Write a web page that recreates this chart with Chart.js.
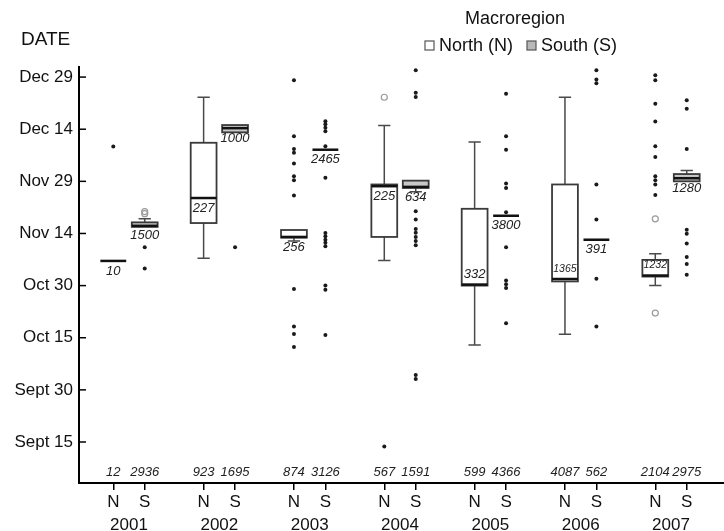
<!DOCTYPE html>
<html>
<head>
<meta charset="utf-8">
<script src="https://cdn.jsdelivr.net/npm/chart.js@4.4.1/dist/chart.umd.min.js"></script>
<style>
  html, body { margin: 0; padding: 0; background: #fff; }
</style>
</head>
<body>
<canvas id="chart" width="724" height="531"></canvas>
<script>
// dates are counted in days from Sept 15
const years = [2001, 2002, 2003, 2004, 2005, 2006, 2007];
const dateTicks = [0, 15, 30, 45, 60, 75, 90, 105];
const dateLabels = ['Sept 15', 'Sept 30', 'Oct 15', 'Oct 30', 'Nov 14', 'Nov 29', 'Dec 14', 'Dec 29'];

// North (N)
const northLow = [52.1, 52.9, 57.8, 52.2, 27.9, 31.0, 45.0];
const northQ1 = [52.1, 63.0, 58.8, 59.0, 45.0, 46.2, 47.6];
const northMedian = [52.1, 70.2, 59.0, 73.6, 45.3, 46.9, 47.9];
const northQ3 = [52.1, 86.1, 61.0, 74.1, 67.1, 74.1, 52.4];
const northHigh = [52.1, 99.2, 61.0, 91.1, 86.3, 99.2, 54.2];
const northBoxLabels = ['10', '227', '256', '225', '332', '1365', '1232'];
const northCounts = ['12', '923', '874', '567', '599', '4087', '2104'];
const northExtremes = [
  [85.0],
  [],
  [104.1, 88.0, 84.3, 83.2, 80.1, 76.5, 75.3, 70.9, 44.0, 33.2, 31.1, 27.3],
  [-1.3],
  [],
  [],
  [105.5, 104.1, 97.3, 92.2, 85.1, 82.0, 76.5, 75.3, 74.1, 71.1]
];
const northOutliers = [[], [], [], [99.2], [], [], [64.2, 37.1]];

// South (S)
const southLow = [61.9, 89.1, 84.1, 72.0, 65.1, 58.2, 75.0];
const southQ1 = [61.9, 89.1, 84.1, 73.1, 65.1, 58.2, 75.0];
const southMedian = [62.2, 90.3, 84.1, 73.4, 65.1, 58.2, 75.9];
const southQ3 = [63.2, 91.2, 84.1, 75.2, 65.1, 58.2, 77.1];
const southHigh = [64.2, 91.2, 84.1, 75.2, 65.1, 58.2, 78.1];
const southBoxLabels = ['1500', '1000', '2465', '634', '3800', '391', '1280'];
const southCounts = ['2936', '1695', '3126', '1591', '4366', '562', '2975'];
const southExtremes = [
  [56.0, 49.9],
  [56.0],
  [92.3, 91.4, 90.4, 89.4, 85.1, 76.0, 60.1, 59.2, 58.2, 57.3, 56.3, 45.0, 43.8, 30.8],
  [107.0, 100.5, 99.3, 66.4, 64.0, 61.3, 60.2, 59.0, 57.8, 56.6, 19.3, 18.1],
  [100.2, 88.0, 84.1, 74.4, 73.1, 66.1, 56.0, 46.5, 45.4, 44.3, 34.2],
  [107.0, 104.3, 103.2, 74.1, 64.0, 47.0, 33.2],
  [98.3, 95.9, 84.3, 61.1, 59.9, 57.1, 53.2, 51.2, 48.1]
];
const southOutliers = [[65.7, 66.3], [], [], [], [], [], []];

const FONT = '"Liberation Sans", Arial, Helvetica, sans-serif';
const SIDE = 0.174; // N / S offset from the year centre

const regions = [
  { key: 'N', offset: -SIDE, fill: '#ffffff', low: northLow, q1: northQ1, med: northMedian,
    q3: northQ3, high: northHigh, labels: northBoxLabels, counts: northCounts },
  { key: 'S', offset: SIDE, fill: '#c8c8c8', low: southLow, q1: southQ1, med: southMedian,
    q3: southQ3, high: southHigh, labels: southBoxLabels, counts: southCounts }
];

const slotValues = [];
years.forEach((yr) => { slotValues.push(yr - SIDE, yr + SIDE); });

function pointsFrom(lists, offset) {
  const pts = [];
  lists.forEach((vals, i) => vals.forEach((v) => pts.push({ x: years[i] + offset, y: v })));
  return pts;
}

function yearWidth(x) {
  return x.getPixelForValue(years[1]) - x.getPixelForValue(years[0]);
}

const boxPlugin = {
  id: 'boxes',
  beforeDatasetsDraw(chart) {
    const { ctx, scales: { x, y } } = chart;
    const unit = yearWidth(x);
    const half = unit * 0.143;
    const cap = unit * 0.068;
    ctx.save();
    regions.forEach((r) => {
      years.forEach((yr, i) => {
        const cx = x.getPixelForValue(yr + r.offset);
        const pLow = y.getPixelForValue(r.low[i]);
        const pQ1 = y.getPixelForValue(r.q1[i]);
        const pMed = y.getPixelForValue(r.med[i]);
        const pQ3 = y.getPixelForValue(r.q3[i]);
        const pHigh = y.getPixelForValue(r.high[i]);
        ctx.strokeStyle = '#4a4a4a';
        ctx.lineWidth = 1.5;
        if (pHigh < pQ3 - 0.5) {
          ctx.beginPath();
          ctx.moveTo(cx, pQ3); ctx.lineTo(cx, pHigh);
          ctx.moveTo(cx - cap, pHigh); ctx.lineTo(cx + cap, pHigh);
          ctx.stroke();
        }
        if (pLow > pQ1 + 0.5) {
          ctx.beginPath();
          ctx.moveTo(cx, pQ1); ctx.lineTo(cx, pLow);
          ctx.moveTo(cx - cap, pLow); ctx.lineTo(cx + cap, pLow);
          ctx.stroke();
        }
        if (pQ1 - pQ3 > 0.5) {
          ctx.fillStyle = r.fill;
          ctx.fillRect(cx - half, pQ3, half * 2, pQ1 - pQ3);
          ctx.lineWidth = 1.8;
          ctx.strokeStyle = '#3a3a3a';
          ctx.strokeRect(cx - half, pQ3, half * 2, pQ1 - pQ3);
        }
        ctx.strokeStyle = '#111';
        ctx.lineWidth = 2.5;
        ctx.beginPath();
        ctx.moveTo(cx - half, pMed); ctx.lineTo(cx + half, pMed);
        ctx.stroke();
      });
    });
    ctx.restore();
  },
  afterDatasetsDraw(chart) {
    const { ctx, scales: { x, y } } = chart;
    const half = yearWidth(x) * 0.143;
    ctx.save();
    ctx.fillStyle = '#222';
    ctx.textAlign = 'center';
    ctx.textBaseline = 'middle';
    regions.forEach((r) => {
      years.forEach((yr, i) => {
        const cx = x.getPixelForValue(yr + r.offset);
        const pQ1 = y.getPixelForValue(r.q1[i]);
        const pMed = y.getPixelForValue(r.med[i]);
        const pQ3 = y.getPixelForValue(r.q3[i]);
        const text = r.labels[i];
        let size = 13;
        let ty = pMed + 10;
        if (pQ1 - pMed < 18 && pQ1 - pQ3 >= 14) {
          ty = pMed - 10;
          ctx.font = 'italic 13px ' + FONT;
          if (ctx.measureText(text).width > half * 2 - 2) size = 10.5;
        }
        ctx.font = 'italic ' + size + 'px ' + FONT;
        ctx.fillText(text, cx, ty);
        // sample size under each box
        ctx.font = 'italic 13px ' + FONT;
        ctx.fillText(r.counts[i], cx, y.bottom - 11);
      });
    });
    ctx.restore();
  },
  afterDraw(chart) {
    const { ctx, scales: { y } } = chart;
    ctx.save();
    // inward ticks on the date axis
    ctx.strokeStyle = '#000';
    ctx.lineWidth = 1.5;
    dateTicks.forEach((v) => {
      const py = y.getPixelForValue(v);
      ctx.beginPath();
      ctx.moveTo(y.right, py); ctx.lineTo(y.right + 7, py);
      ctx.stroke();
    });
    ctx.fillStyle = '#111';
    ctx.textBaseline = 'middle';
    ctx.textAlign = 'left';
    ctx.font = '19px ' + FONT;
    ctx.fillText('DATE', 21, 40);
    // legend
    ctx.textAlign = 'center';
    ctx.font = '18px ' + FONT;
    ctx.fillText('Macroregion', 515, 19);
    ctx.textAlign = 'left';
    ctx.lineWidth = 1.2;
    ctx.strokeStyle = '#555';
    ctx.fillStyle = '#fff';
    ctx.fillRect(425, 41, 9, 9);
    ctx.strokeRect(425, 41, 9, 9);
    ctx.fillStyle = '#b8b8b8';
    ctx.fillRect(527, 41, 9, 9);
    ctx.strokeRect(527, 41, 9, 9);
    ctx.fillStyle = '#111';
    ctx.fillText('North (N)', 439, 46);
    ctx.fillText('South (S)', 541, 46);
    ctx.restore();
  }
};

new Chart(document.getElementById('chart'), {
  type: 'scatter',
  data: {
    datasets: [
      {
        label: 'extreme',
        data: pointsFrom(northExtremes, -SIDE).concat(pointsFrom(southExtremes, SIDE)),
        pointRadius: 2,
        pointBackgroundColor: '#1a1a1a',
        pointBorderWidth: 0
      },
      {
        label: 'outlier',
        data: pointsFrom(northOutliers, -SIDE).concat(pointsFrom(southOutliers, SIDE)),
        pointRadius: 3,
        pointBackgroundColor: 'rgba(0,0,0,0)',
        pointBorderColor: '#9a9a9a',
        pointBorderWidth: 1.2
      }
    ]
  },
  options: {
    responsive: false,
    animation: false,
    layout: { autoPadding: false, padding: { top: 67, left: 0, right: 0, bottom: 0 } },
    plugins: { legend: { display: false }, tooltip: { enabled: false } },
    scales: {
      y: {
        min: -11.8,
        max: 107.9,
        afterFit: (s) => { s.width = 79; },
        afterBuildTicks: (s) => { s.ticks = dateTicks.map((v) => ({ value: v })); },
        grid: { display: false, drawTicks: false },
        border: { display: true, color: '#000', width: 2 },
        ticks: {
          padding: 6,
          color: '#111',
          font: { family: FONT, size: 17 },
          callback: (v) => dateLabels[dateTicks.indexOf(v)]
        }
      },
      x: {
        type: 'linear',
        position: 'bottom',
        weight: 0,
        min: 2000.4465,
        max: 2007.5865,
        afterFit: (s) => { s.height = 28; },
        afterBuildTicks: (s) => { s.ticks = slotValues.map((v) => ({ value: v })); },
        grid: { drawOnChartArea: false, drawTicks: true, tickLength: 7, color: '#000', lineWidth: 1.5 },
        border: { display: true, color: '#000', width: 2 },
        ticks: {
          padding: 2,
          maxRotation: 0,
          autoSkip: false,
          color: '#111',
          font: { family: FONT, size: 17 },
          callback: (v, i) => regions[i % 2].key
        }
      },
      x2: {
        type: 'linear',
        position: 'bottom',
        weight: 1,
        min: 2000.4465,
        max: 2007.5865,
        afterFit: (s) => { s.height = 20; },
        afterBuildTicks: (s) => { s.ticks = years.map((v) => ({ value: v })); },
        grid: { display: false, drawTicks: false },
        border: { display: false },
        ticks: {
          padding: 4,
          maxRotation: 0,
          autoSkip: false,
          color: '#111',
          font: { family: FONT, size: 17 },
          callback: (v) => String(v)
        }
      }
    }
  },
  plugins: [boxPlugin]
});
</script>
</body>
</html>
